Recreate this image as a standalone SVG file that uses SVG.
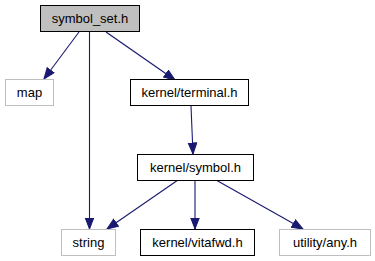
<svg xmlns="http://www.w3.org/2000/svg" width="375" height="261" viewBox="0 0 375 261">
  <style>
    .box { fill: #ffffff; stroke: #000000; stroke-width: 1; }
    .ext { fill: #ffffff; stroke: #bfbfbf; stroke-width: 1; }
    .cur { fill: #bfbfbf; stroke: #000000; stroke-width: 1; }
    .lbl { font-family: "Liberation Sans", Arial, Helvetica, sans-serif; font-size: 13px; fill: #000000; text-anchor: middle; }
    .edge { fill: none; stroke: #191970; stroke-width: 1.1; marker-end: url(#arrow); }
  </style>
  <defs>
    <marker id="arrow" markerWidth="13" markerHeight="10" refX="11.5" refY="4.75" orient="auto" markerUnits="userSpaceOnUse">
      <path d="M0.5,0.5 L11.5,4.75 L0.5,9 z" fill="#191970" stroke="#191970" stroke-width="1"/>
    </marker>
  </defs>

  <g id="edges">
    <path class="edge" d="M79,32 L44,79"/>
    <path class="edge" d="M89.5,32 L89.5,229"/>
    <path class="edge" d="M106,32 L175,80"/>
    <path class="edge" d="M191,106 L193,154"/>
    <path class="edge" d="M178,180 L107,229"/>
    <path class="edge" d="M195,180 L195,229"/>
    <path class="edge" d="M216,180 L303,229"/>
  </g>

  <g id="node_symbol_set">
    <rect class="cur" x="40.5" y="5.5" width="99" height="26"/>
    <text class="lbl" x="90" y="23">symbol_set.h</text>
  </g>
  <g id="node_map">
    <rect class="ext" x="5.5" y="79.5" width="48" height="26"/>
    <text class="lbl" x="29.5" y="97">map</text>
  </g>
  <g id="node_terminal">
    <rect class="box" x="130.5" y="79.5" width="118" height="26"/>
    <text class="lbl" x="189.5" y="97">kernel/terminal.h</text>
  </g>
  <g id="node_symbol">
    <rect class="box" x="137.5" y="154.5" width="116" height="26"/>
    <text class="lbl" x="195.5" y="172">kernel/symbol.h</text>
  </g>
  <g id="node_string">
    <rect class="ext" x="61.5" y="229.5" width="54" height="26"/>
    <text class="lbl" x="88.5" y="247">string</text>
  </g>
  <g id="node_vitafwd">
    <rect class="box" x="140.5" y="229.5" width="114" height="26"/>
    <text class="lbl" x="197.5" y="247">kernel/vitafwd.h</text>
  </g>
  <g id="node_any">
    <rect class="ext" x="279.5" y="229.5" width="91" height="26"/>
    <text class="lbl" x="325" y="247">utility/any.h</text>
  </g>
</svg>
